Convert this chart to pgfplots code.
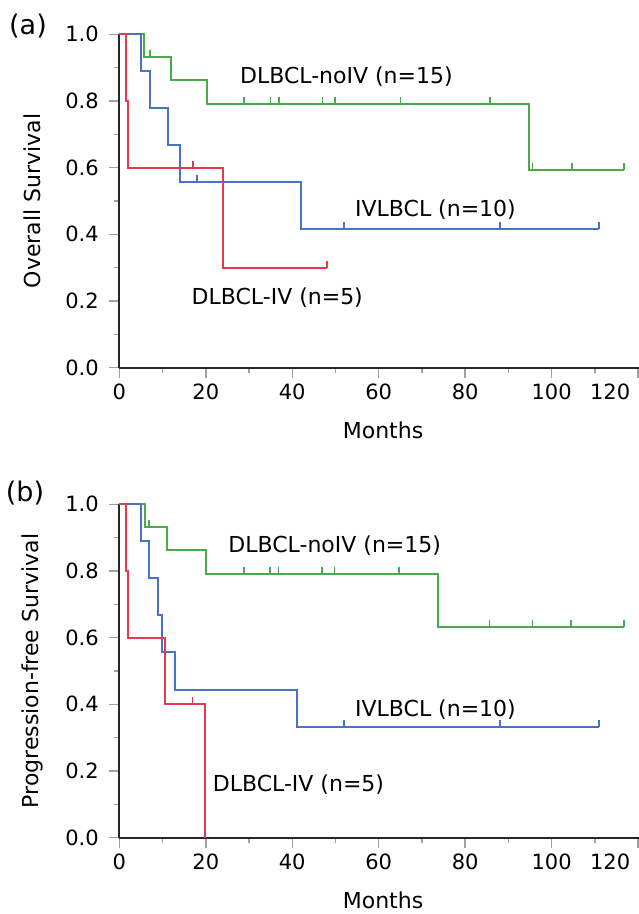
\documentclass[border=0pt]{standalone}
\usepackage{pgfplots}
\pgfplotsset{compat=1.18}
\usepackage{fontspec}
\setmainfont{DejaVu Sans}
\definecolor{kmgreen}{RGB}{76,170,76}
\definecolor{kmblue}{RGB}{70,115,200}
\definecolor{kmred}{RGB}{232,56,80}
\definecolor{axgray}{RGB}{160,160,160}
\pgfdeclareplotmark{cens}{\pgfpathmoveto{\pgfpointorigin}\pgfpathlineto{\pgfpoint{0pt}{7pt}}\pgfusepathqstroke}
\newcommand\lbl{\fontsize{22pt}{26pt}\selectfont}
\newcommand\tlbl{\fontsize{21pt}{25pt}\selectfont}
\pgfplotsset{kmaxis/.style={
  scale only axis, width=527.5pt, height=333.4pt,
  xmin=0, xmax=122, ymin=0, ymax=1,
  axis x line*=bottom, axis y line*=left,
  axis line style={line width=1.8pt, color=black!85},
  tick align=outside,
  major tick length=10pt, minor tick length=5pt,
  tick style={axgray, line width=1.5pt},
  xtick={0,20,40,60,80,100,120},
  xticklabels={0,20,40,60,80,100,\llap{120\hspace{8pt}}},
  minor xtick={10,30,50,70,90,110},
  ytick={0,0.2,0.4,0.6,0.8,1},
  yticklabels={0.0,0.2,0.4,0.6,0.8,1.0},
  minor ytick={0.1,0.3,0.5,0.7,0.9},
  tick label style={font=\tlbl},
  xticklabel style={yshift=-3pt},
  yticklabel style={xshift=-7pt},
  /pgf/number format/assume math mode=true,
  xlabel={Months},
  every axis x label/.style={at={(axis description cs:0.5,-0.189)}, anchor=center, font=\lbl},
  every axis y label/.style={at={(axis description cs:-0.165,0.5)}, rotate=90, anchor=center, font=\lbl},
  clip=false,
  every axis plot/.append style={line width=1.8pt},
}}
\begin{document}
\begin{tikzpicture}
\path[use as bounding box] (0,0) rectangle (638pt,914pt);
\node[font=\fontsize{27pt}{31pt}\selectfont] at (28pt,888pt) {(a)};
\node[font=\fontsize{27pt}{31pt}\selectfont] at (25pt,421pt) {(b)};
% ---------- (a) Overall survival ----------
\begin{axis}[kmaxis, at={(119.3pt,546.3pt)}, anchor=south west, ylabel={Overall Survival}]
\addplot[const plot, kmgreen] coordinates {(0,1) (5.8,0.933) (12.0,0.862) (20.2,0.790) (94.8,0.592) (116.7,0.592)};
\addplot[only marks, mark=cens, kmgreen, mark options={line width=1.6pt}] coordinates {(7.1,0.933) (28.9,0.79) (35,0.79) (36.9,0.79) (47,0.79) (49.9,0.79) (65,0.79) (85.8,0.79) (95.6,0.592) (104.7,0.592) (116.7,0.592)};
\addplot[const plot, kmblue] coordinates {(0,1) (5.0,0.889) (7.1,0.778) (11.2,0.667) (14.0,0.556) (42.1,0.417) (111,0.417)};
\addplot[only marks, mark=cens, kmblue, mark options={line width=1.6pt}] coordinates {(18.0,0.556) (52,0.417) (88,0.417) (111,0.417)};
\addplot[const plot, kmred] coordinates {(0,1) (1.5,0.8) (2.1,0.6) (24.0,0.3) (48,0.3)};
\addplot[only marks, mark=cens, kmred, mark options={line width=1.6pt}] coordinates {(17,0.6) (48,0.3)};
\node[font=\lbl, inner sep=0pt, anchor=west] at (axis cs:27.9,0.872) {DLBCL-noIV (n=15)};
\node[font=\lbl, inner sep=0pt, anchor=west] at (axis cs:54.5,0.473) {IVLBCL (n=10)};
\node[font=\lbl, inner sep=0pt, anchor=west] at (axis cs:16.7,0.209) {DLBCL-IV (n=5)};
\end{axis}
% ---------- (b) Progression-free survival ----------
\begin{axis}[kmaxis, at={(119.3pt,76.3pt)}, anchor=south west, ylabel={Progression-free Survival}]
\addplot[const plot, kmgreen] coordinates {(0,1) (5.9,0.933) (11.0,0.862) (20.0,0.790) (73.7,0.632) (116.7,0.632)};
\addplot[only marks, mark=cens, kmgreen, mark options={line width=1.6pt}] coordinates {(6.9,0.933) (28.8,0.79) (34.9,0.79) (36.8,0.79) (46.9,0.79) (49.8,0.79) (64.7,0.79) (85.6,0.632) (95.6,0.632) (104.5,0.632) (116.7,0.632)};
\addplot[const plot, kmblue] coordinates {(0,1) (5.0,0.889) (6.9,0.778) (9.0,0.667) (9.8,0.556) (12.9,0.444) (41.1,0.333) (111,0.333)};
\addplot[only marks, mark=cens, kmblue, mark options={line width=1.6pt}] coordinates {(52,0.333) (88,0.333) (111,0.333)};
\addplot[const plot, kmred] coordinates {(0,1) (1.5,0.8) (2.1,0.6) (10.6,0.4) (19.9,0)};
\addplot[only marks, mark=cens, kmred, mark options={line width=1.6pt}] coordinates {(16.9,0.4)};
\node[font=\lbl, inner sep=0pt, anchor=west] at (axis cs:25.2,0.875) {DLBCL-noIV (n=15)};
\node[font=\lbl, inner sep=0pt, anchor=west] at (axis cs:54.5,0.383) {IVLBCL (n=10)};
\node[font=\lbl, inner sep=0pt, anchor=west] at (axis cs:21.6,0.158) {DLBCL-IV (n=5)};
\end{axis}
\end{tikzpicture}
\end{document}
